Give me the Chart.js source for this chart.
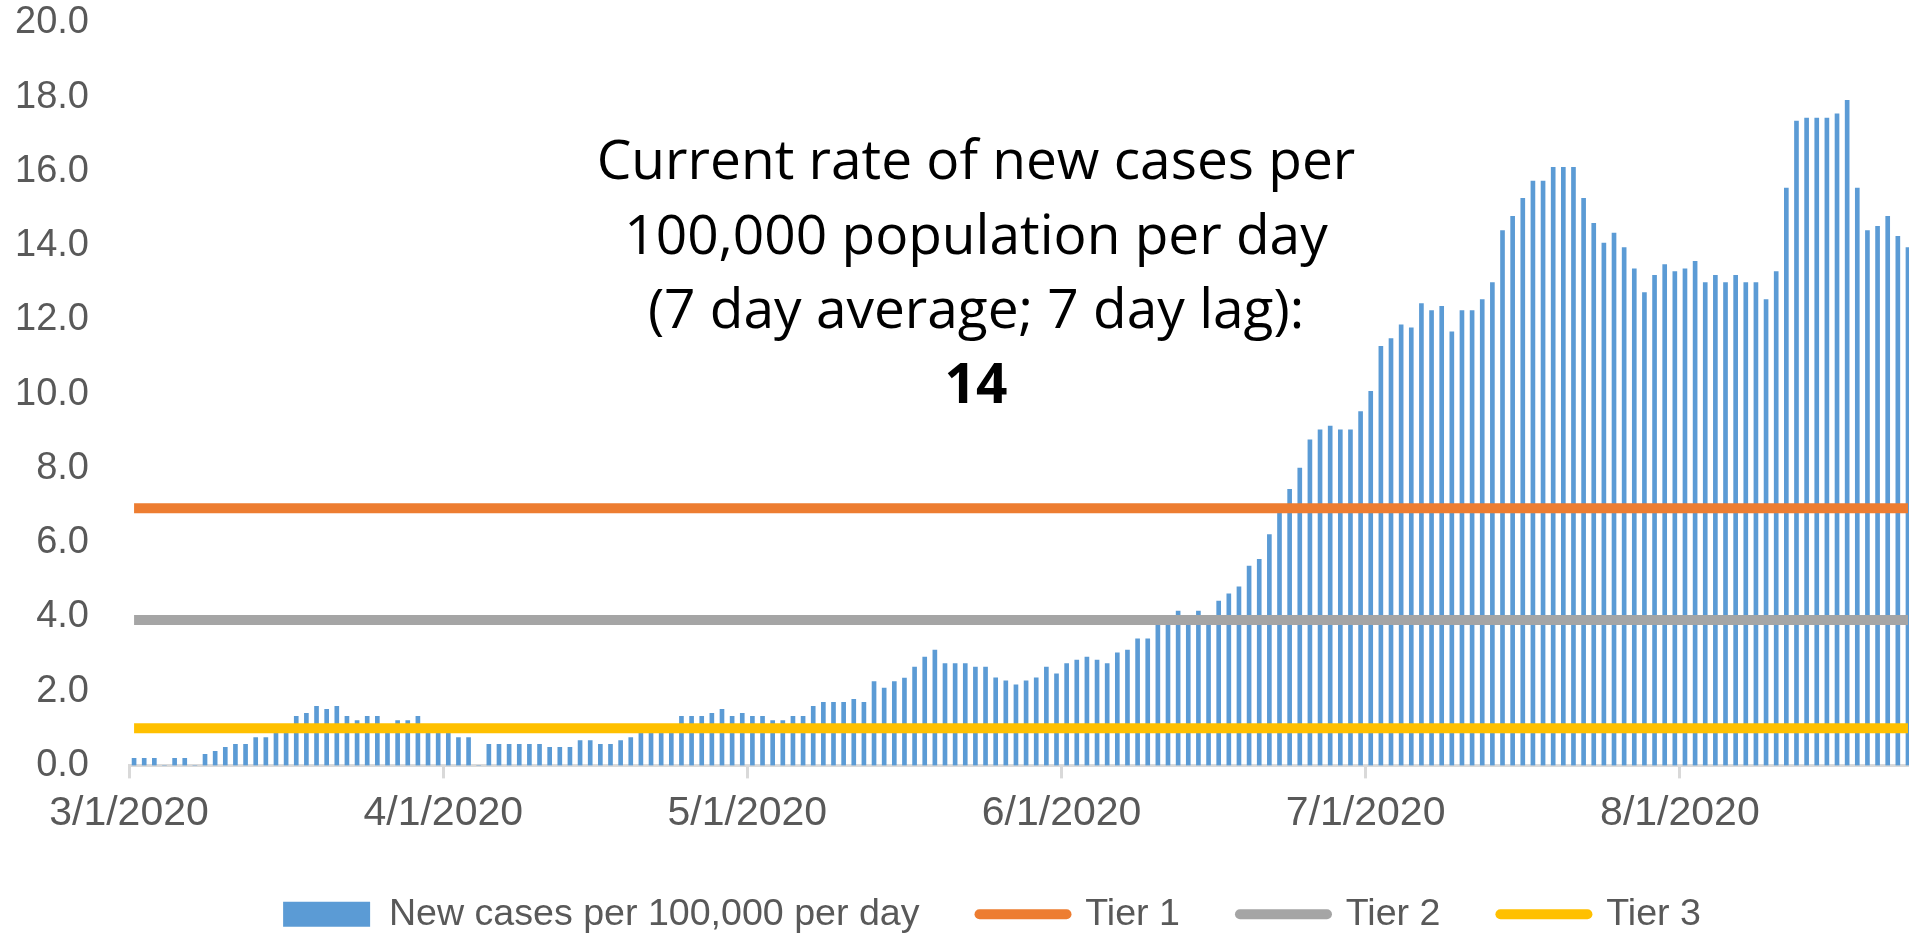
<!DOCTYPE html>
<html>
<head>
<meta charset="utf-8">
<script src="https://cdn.jsdelivr.net/npm/chart.js@4.4.1/dist/chart.umd.min.js"></script>
<style>
  html, body { margin: 0; padding: 0; background: #ffffff; overflow: hidden; }
  #wrap { position: relative; width: 1909px; height: 933px; overflow: hidden; }
  #c { position: absolute; left: 0; top: 0; }
  #note {
    position: absolute; left: 476px; top: 121px; width: 1000px;
    text-align: center; font-family: 'Open Sans', sans-serif; font-size: 55px;
    line-height: 74.7px; color: #000000;
  }
  #note b { font-weight: 700; }
</style>
</head>
<body>
<div id="wrap">
  <canvas id="c" width="1984" height="943"></canvas>
  <div id="note">Current rate of new cases per<br>100,000 population per day<br>(7 day average; 7 day lag):<br><b>14</b></div>
</div>
<script>
// ---- data (days counted from 3/1/2020) ----
const seriesLabels = ['New cases per 100,000 per day', 'Tier 1', 'Tier 2', 'Tier 3'];
const monthTickDays = [0, 31, 61, 92, 122, 153];
const monthTickLabels = ['3/1/2020', '4/1/2020', '5/1/2020', '6/1/2020', '7/1/2020', '8/1/2020'];
const yTicks = [0, 2, 4, 6, 8, 10, 12, 14, 16, 18, 20];
const newCases = [
  // March 1-31
  0.19, 0.19, 0.19, 0, 0.19, 0.19, 0, 0.30, 0.38, 0.49,
  0.57, 0.57, 0.75, 0.75, 0.95, 0.95, 1.32, 1.40, 1.59, 1.51,
  1.59, 1.32, 1.21, 1.32, 1.32, 1.05, 1.21, 1.21, 1.32, 1.05,
  1.05,
  // April 1-30
  0.90, 0.75, 0.75, 0, 0.57, 0.57, 0.57, 0.57, 0.57, 0.57,
  0.49, 0.49, 0.49, 0.67, 0.67, 0.57, 0.57, 0.67, 0.75, 0.90,
  0.95, 1.00, 1.00, 1.32, 1.32, 1.32, 1.40, 1.51, 1.32, 1.40,
  // May 1-31
  1.32, 1.32, 1.21, 1.21, 1.32, 1.32, 1.59, 1.70, 1.70, 1.70,
  1.78, 1.70, 2.26, 2.08, 2.26, 2.35, 2.65, 2.92, 3.11, 2.74,
  2.74, 2.74, 2.65, 2.65, 2.36, 2.28, 2.17, 2.28, 2.36, 2.65,
  2.47,
  // June 1-30
  2.74, 2.84, 2.92, 2.84, 2.74, 3.03, 3.11, 3.41, 3.41, 3.90,
  3.95, 4.16, 3.95, 4.16, 3.95, 4.43, 4.62, 4.81, 5.37, 5.55,
  6.22, 6.90, 7.44, 8.01, 8.77, 9.04, 9.14, 9.04, 9.04, 9.53,
  // July 1-31
  10.08, 11.29, 11.50, 11.87, 11.79, 12.44, 12.25, 12.37, 11.68, 12.25,
  12.25, 12.55, 13.01, 14.41, 14.79, 15.28, 15.74, 15.74, 16.11, 16.11,
  16.11, 15.28, 14.60, 14.07, 14.34, 13.95, 13.38, 12.74, 13.20, 13.49,
  13.30,
  // August 1-23
  13.38, 13.58, 13.01, 13.20, 13.01, 13.20, 13.01, 13.01, 12.55, 13.30,
  15.55, 17.36, 17.44, 17.44, 17.44, 17.55, 17.92, 15.55, 14.41, 14.52,
  14.79, 14.25, 13.95
];
const tier1 = 6.93;
const tier2 = 3.92;
const tier3 = 1.0;
const axisDays = 183;

const days = newCases.map((_, i) => i);
const seriesColors = ['#5B9BD5', '#ED7D31', '#A5A5A5', '#FFC000'];

function tierData(level) {
  return days.map(d => ({ x: d + 0.5, y: level }));
}

const tickFont = { family: "'Liberation Sans', Arial, sans-serif" };

new Chart(document.getElementById('c'), {
  type: 'bar',
  data: {
    datasets: [
      {
        type: 'bar',
        label: seriesLabels[0],
        data: days.map(d => ({ x: d + 0.5, y: newCases[d] })),
        backgroundColor: seriesColors[0],
        borderWidth: 0,
        barThickness: 4,
        order: 1
      },
      { type: 'line', label: seriesLabels[1], data: tierData(tier1), borderColor: seriesColors[1], backgroundColor: seriesColors[1], borderWidth: 10, pointRadius: 0, fill: false, order: 0 },
      { type: 'line', label: seriesLabels[2], data: tierData(tier2), borderColor: seriesColors[2], backgroundColor: seriesColors[2], borderWidth: 10, pointRadius: 0, fill: false, order: 0 },
      { type: 'line', label: seriesLabels[3], data: tierData(tier3), borderColor: seriesColors[3], backgroundColor: seriesColors[3], borderWidth: 10, pointRadius: 0, fill: false, order: 0 }
    ]
  },
  options: {
    responsive: false,
    animation: false,
    devicePixelRatio: 1,
    layout: { padding: { top: 23, left: 0, right: 0, bottom: 0 } },
    plugins: {
      tooltip: { enabled: false },
      legend: {
        position: 'bottom',
        labels: {
          usePointStyle: true,
          pointStyleWidth: 87,
          boxHeight: 25,
          padding: 60,
          color: '#595959',
          font: { family: "'Liberation Sans', Arial, sans-serif", size: 37.6 },
          generateLabels(chart) {
            return chart.data.datasets.map((ds, i) => ({
              text: ds.label,
              fillStyle: ds.type === 'line' ? ds.borderColor : ds.backgroundColor,
              strokeStyle: ds.type === 'line' ? ds.borderColor : ds.backgroundColor,
              lineWidth: ds.type === 'line' ? 10 : 0,
              lineCap: 'round',
              pointStyle: ds.type === 'line' ? 'line' : 'rect',
              hidden: !chart.isDatasetVisible(i),
              fontColor: '#595959',
              datasetIndex: i
            }));
          }
        }
      }
    },
    scales: {
      x: {
        type: 'linear',
        min: 0,
        max: axisDays,
        offset: false,
        afterFit(scale) { scale.height = 70; },
        afterBuildTicks(scale) { scale.ticks = monthTickDays.map(v => ({ value: v })); },
        grid: { display: true, offset: false, drawOnChartArea: false, drawTicks: true, tickLength: 13, tickWidth: 3, color: '#D9D9D9' },
        border: { display: true, color: '#D9D9D9', width: 3 },
        ticks: {
          autoSkip: false,
          maxRotation: 0,
          padding: 11,
          color: '#595959',
          font: Object.assign({ size: 41 }, tickFont),
          callback: (v) => monthTickLabels[monthTickDays.indexOf(v)]
        }
      },
      y: {
        min: 0,
        max: 20,
        afterFit(scale) { scale.width = 129; scale.paddingTop = 0; scale.paddingBottom = 0; },
        afterBuildTicks(scale) { scale.ticks = yTicks.map(v => ({ value: v })); },
        grid: { display: false, drawTicks: false },
        border: { display: false },
        ticks: {
          padding: 40,
          color: '#595959',
          font: Object.assign({ size: 38 }, tickFont),
          callback: (v) => Number(v).toFixed(1)
        }
      }
    }
  }
});
</script>
</body>
</html>
